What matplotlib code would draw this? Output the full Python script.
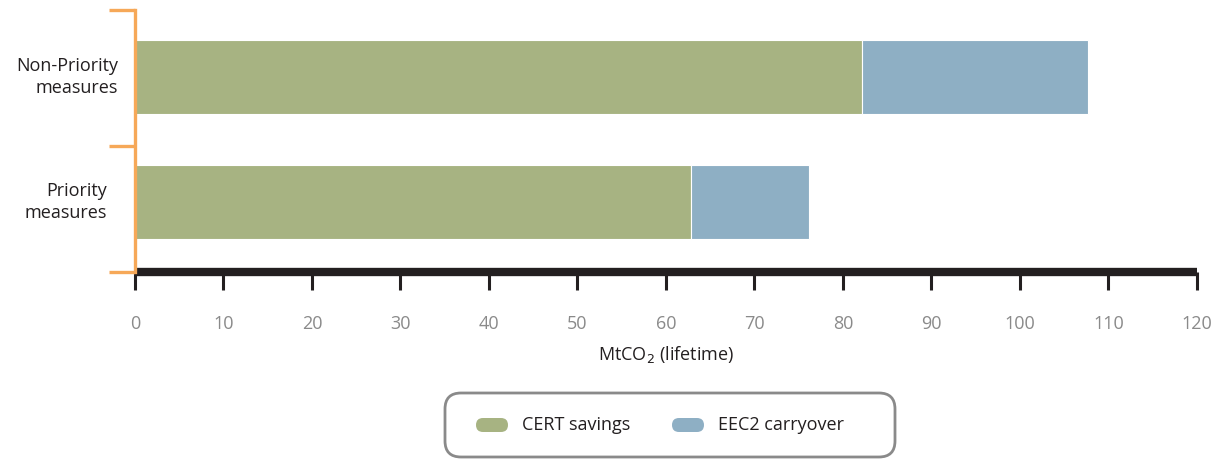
import numpy as np
import matplotlib
matplotlib.use("Agg")
import matplotlib.pyplot as plt
from matplotlib.patches import FancyBboxPatch
from matplotlib.transforms import IdentityTransform, blended_transform_factory

# data
categories = ["Priority\nmeasures", "Non-Priority\nmeasures"]
cert_savings = [62.8, 82.1]
eec2_carryover = [13.4, 25.6]
xticks = list(range(0, 121, 10))

green = "#A7B382"
blue = "#8EAFC4"
orange = "#F6A858"
dark = "#231F20"
grey = "#8A8A8A"

plt.rcParams['font.family'] = ['Open Sans', 'DejaVu Sans']

fig = plt.figure(figsize=(12.2, 4.59), dpi=100)
W, H = 1220, 459
ax = fig.add_axes([135 / W, (H - 272) / H, (1197 - 135) / W, (272 - 10) / H])

y = np.arange(len(categories))
ax.barh(y, cert_savings, height=0.59, color=green, edgecolor="white", linewidth=0.8)
ax.barh(y, eec2_carryover, left=cert_savings, height=0.59, color=blue,
        edgecolor="white", linewidth=0.8)

ax.set_xlim(0, 120)
ax.set_ylim(-0.56, 1.536)

# spines
for s in ["top", "right"]:
    ax.spines[s].set_visible(False)
ax.spines["bottom"].set_color(dark)
ax.spines["bottom"].set_linewidth(6)
ax.spines["bottom"].set_capstyle("butt")
ax.spines["left"].set_color(orange)
ax.spines["left"].set_linewidth(2.4)
ax.spines["left"].set_zorder(3)

ax.set_xticks(xticks)
ax.set_xticklabels([str(t) for t in xticks])
ax.tick_params(axis="x", direction="out", length=13, width=2.2, color=dark,
               labelcolor=grey, labelsize=13, pad=18)

# orange bracket ticks at category boundaries
ax.set_yticks([-0.56, 0.448, 1.536])
ax.set_yticklabels([])
ax.tick_params(axis="y", which="major", direction="out", length=19, width=2.4,
               color=orange)

# category labels
label_x = [107, 118]
tr = blended_transform_factory(fig.transFigure, ax.transData)
for i, lab in enumerate(categories):
    fig.text(label_x[i] / W, y[i], lab, ha="right", va="center", fontsize=13,
             color=dark, linespacing=1.3, transform=tr)

ax.set_xlabel("MtCO$_2$ (lifetime)", fontsize=13, color=dark, labelpad=8)

# legend box (pixel coordinates)
px = IdentityTransform()
box = FancyBboxPatch((445, H - 457), 895 - 445, 457 - 393,
                     boxstyle="round,pad=0,rounding_size=16",
                     transform=px, facecolor="white",
                     edgecolor=grey, linewidth=2)
fig.patches.append(box)

legend_items = [("CERT savings", green, 476), ("EEC2 carryover", blue, 672)]
for name, col, x0 in legend_items:
    pill = FancyBboxPatch((x0, H - 432), 32, 14,
                          boxstyle="round,pad=0,rounding_size=7",
                          transform=px, facecolor=col, edgecolor="none")
    fig.patches.append(pill)
    fig.text((x0 + 46) / W, (H - 425) / H, name, ha="left", va="center",
             fontsize=13, color=dark)

fig.savefig("out.png", dpi=100)
